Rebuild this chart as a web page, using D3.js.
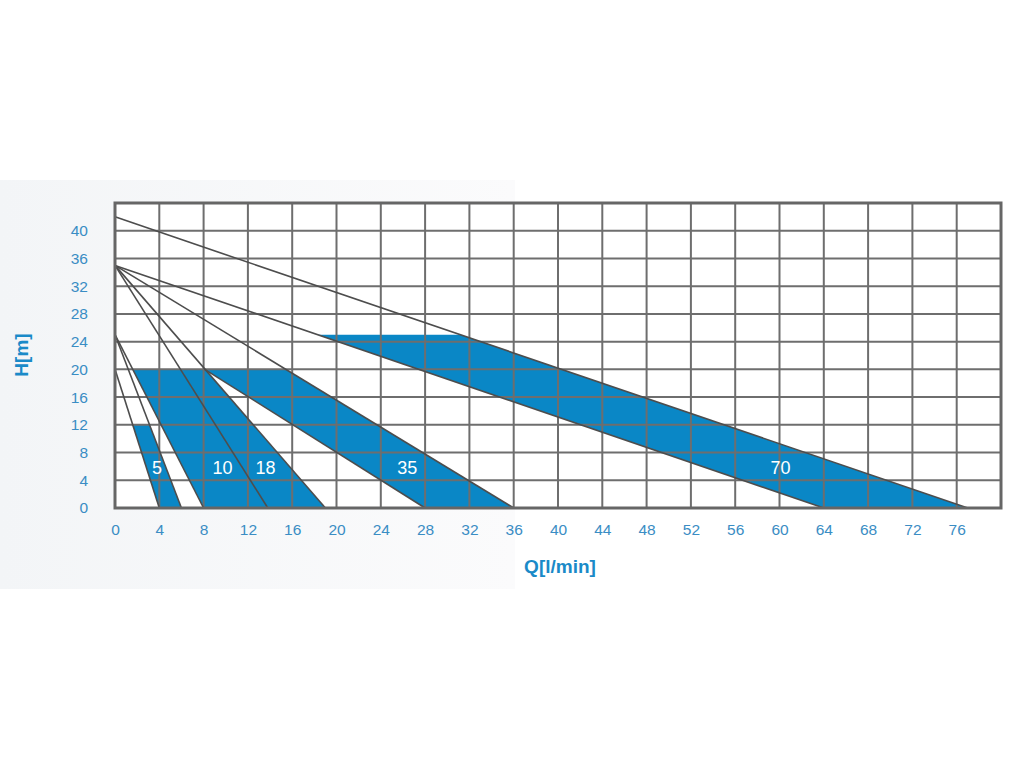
<!DOCTYPE html>
<html>
<head>
<meta charset="utf-8">
<script src="https://cdn.jsdelivr.net/npm/d3@7"></script>
<style>
  html, body { margin: 0; padding: 0; background: #ffffff; }
  svg { display: block; }
</style>
</head>
<body>
<svg id="chart" width="1024" height="768"></svg>
<script>
// ---------- data ----------
const xTickValues = [0, 4, 8, 12, 16, 20, 24, 28, 32, 36, 40, 44, 48, 52, 56, 60, 64, 68, 72, 76];
const yTickValues = [0, 4, 8, 12, 16, 20, 24, 28, 32, 36, 40];
const xGridValues = d3.range(0, 81, 4);
const yGridValues = d3.range(0, 45, 4);

// pump curves (Q [l/min], H [m])
const curveTop   = [[0, 42], [77, 0]];
const curve70Low = [[0, 35], [64, 0]];
const curve35Up  = [[0, 35], [36, 0]];
const curve18Up  = [[0, 35], [19, 0]];
const curve10Up  = [[0, 35], [13.8, 0]];
const curve35Low = [[8.1, 20], [28, 0]];
const curve10Low = [[0, 25], [8, 0]];
const curve5Up   = [[0, 25], [6, 0]];
const curve5Low  = [[0, 20], [4, 0]];
const curves = [curveTop, curve70Low, curve35Up, curve18Up, curve10Up, curve35Low, curve10Low, curve5Up, curve5Low];

// operating areas
const band5  = [[1.6, 12], [3.12, 12], [6, 0], [4, 0]];
const band10 = [[1.6, 20], [5.91, 20], [13.8, 0], [8, 0]];
const band18 = [[5.91, 20], [8.14, 20], [19, 0], [13.8, 0]];
const band35 = [[8.1, 20], [15.4, 20], [36, 0], [28, 0]];
const band70 = [[18.3, 25], [31.2, 25], [77, 0], [64, 0]];
const bands = [band5, band10, band18, band35, band70];

const bandLabels = ["5", "10", "18", "35", "70"];
const labelQ = [3.8, 9.7, 13.6, 26.4, 60.1];
const labelH = [5.7, 5.7, 5.7, 5.7, 5.7];

// ---------- drawing ----------
const svg = d3.select("#chart");
const x = d3.scaleLinear().domain([0, 80]).range([115, 1001]);
const y = d3.scaleLinear().domain([0, 44]).range([508, 203]);

const defs = svg.append("defs");
const grad = defs.append("linearGradient").attr("id", "panelGrad")
  .attr("x1", "0%").attr("x2", "100%").attr("y1", "0%").attr("y2", "0%");
grad.append("stop").attr("offset", "0%").attr("stop-color", "#f3f5f7");
grad.append("stop").attr("offset", "100%").attr("stop-color", "#fbfbfc");

svg.append("rect").attr("x", 0).attr("y", 180).attr("width", 515).attr("height", 409)
  .attr("fill", "url(#panelGrad)");

// plot background
svg.append("rect").attr("x", x(0)).attr("y", y(44)).attr("width", x(80) - x(0)).attr("height", y(0) - y(44))
  .attr("fill", "#ffffff");

const blue = "#0a87c6";
const line = d3.line().x(d => x(d[0])).y(d => y(d[1]));

svg.append("g").selectAll("path").data(bands).join("path")
  .attr("d", d => line(d) + "Z")
  .attr("fill", blue);

// grid
const grid = svg.append("g").attr("stroke", "#6e6e6e").attr("stroke-width", 2);
grid.selectAll("line.v").data(xGridValues).join("line").attr("class", "v")
  .attr("x1", d => x(d)).attr("x2", d => x(d)).attr("y1", y(44)).attr("y2", y(0));
grid.selectAll("line.h").data(yGridValues).join("line").attr("class", "h")
  .attr("x1", x(0)).attr("x2", x(80)).attr("y1", d => y(d)).attr("y2", d => y(d));

// curves
svg.append("g").selectAll("path").data(curves).join("path")
  .attr("d", line).attr("fill", "none").attr("stroke", "#4d4d4d").attr("stroke-width", 1.6);

// border
svg.append("rect").attr("x", x(0)).attr("y", y(44)).attr("width", x(80) - x(0)).attr("height", y(0) - y(44))
  .attr("fill", "none").attr("stroke", "#666666").attr("stroke-width", 3);

// axes (tick labels only)
const xAxis = d3.axisBottom(x).tickValues(xTickValues).tickSize(0).tickPadding(16).tickFormat(d3.format("d"));
const gx = svg.append("g").attr("transform", `translate(0,${y(0)})`).call(xAxis);
gx.select(".domain").remove();
gx.selectAll("text").attr("fill", "#3a8dc4").attr("font-family", "Liberation Sans, Arial, sans-serif").attr("font-size", 15.5);

const yAxis = d3.axisLeft(y).tickValues(yTickValues).tickSize(0).tickPadding(27).tickFormat(d3.format("d"));
const gy = svg.append("g").attr("transform", `translate(${x(0)},0)`).call(yAxis);
gy.select(".domain").remove();
gy.selectAll("text").attr("fill", "#3a8dc4").attr("font-family", "Liberation Sans, Arial, sans-serif").attr("font-size", 15.5);

// band labels
svg.append("g").selectAll("text").data(bandLabels).join("text")
  .attr("x", (d, i) => x(labelQ[i])).attr("y", (d, i) => y(labelH[i]))
  .attr("text-anchor", "middle").attr("dominant-baseline", "central")
  .attr("fill", "#ffffff").attr("font-family", "Liberation Sans, Arial, sans-serif").attr("font-size", 18)
  .text(d => d);

// axis titles
svg.append("text").attr("x", 560).attr("y", 573).attr("text-anchor", "middle")
  .attr("fill", "#1a8ac8").attr("font-family", "Liberation Sans, Arial, sans-serif")
  .attr("font-size", 19).attr("font-weight", "bold").text("Q[l/min]");
svg.append("text").attr("transform", "translate(28,355) rotate(-90)").attr("text-anchor", "middle")
  .attr("fill", "#1a8ac8").attr("font-family", "Liberation Sans, Arial, sans-serif")
  .attr("font-size", 19).attr("font-weight", "bold").text("H[m]");
</script>
</body>
</html>
